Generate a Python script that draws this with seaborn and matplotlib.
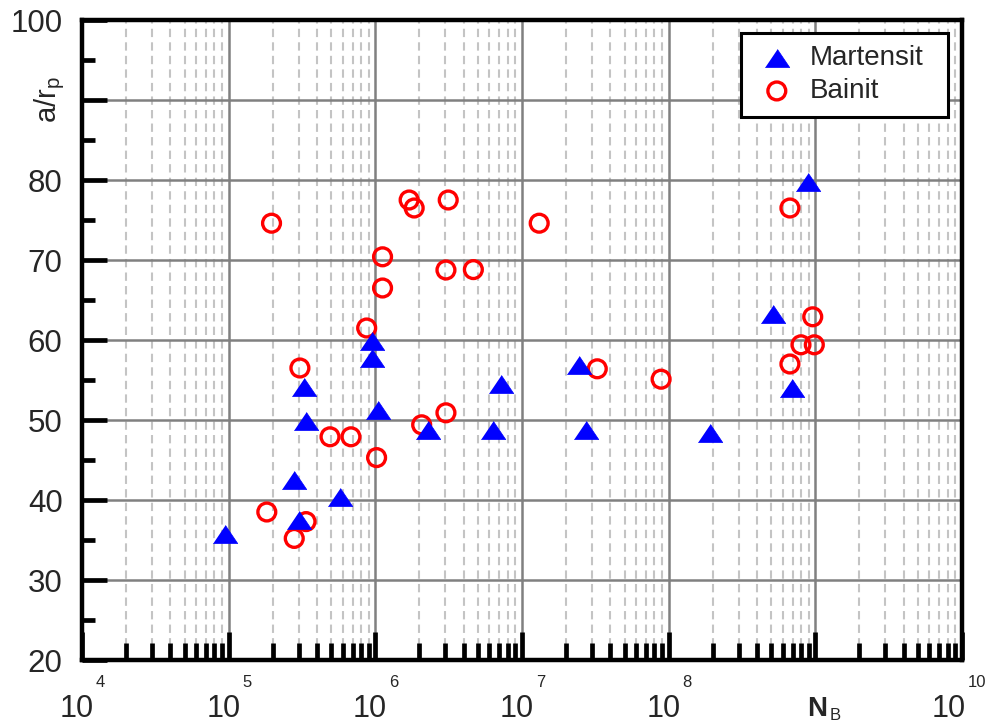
"""
Crack length ratio a/r_p against number of cycles N_B for martensitic and bainitic samples.
Writes out.png.
"""

import matplotlib as mpl

mpl.use("Agg")  # headless

import matplotlib.pyplot as plt
import pandas as pd
import seaborn as sns
from matplotlib.ticker import FixedLocator, LogLocator, NullFormatter

# Martensit (filled blue triangles)
martensit_n = [9.44e4, 2.79e5, 3.03e5, 3.28e5, 3.37e5, 5.74e5, 9.5e5, 9.5e5, 1.04e6,
               2.30e6, 6.3e6, 7.16e6, 2.46e7, 2.72e7, 1.91e8, 5.17e8, 6.9e8, 8.95e8]
martensit_a = [35.8, 42.5, 37.5, 54.1, 49.9, 40.4, 59.9, 57.75, 51.3,
               48.8, 48.8, 54.5, 56.9, 48.8, 48.4, 63.2, 54.0, 79.8]

# Bainit (open red circles)
bainit_n = [1.96e5, 1.70e6, 1.84e6, 3.14e6, 1.31e7, 1.12e6, 3.03e6, 4.66e6, 1.12e6,
            8.73e5, 3.06e5, 4.91e5, 6.82e5, 1.02e6, 2.07e6, 3.03e6, 1.82e5, 3.37e5,
            2.80e5, 3.26e7, 8.88e7, 6.71e8, 9.6e8, 7.98e8, 9.84e8, 6.71e8]
bainit_a = [74.6, 77.5, 76.5, 77.5, 74.6, 70.4, 68.75, 68.8, 66.5,
            61.5, 56.5, 47.9, 47.9, 45.3, 49.4, 50.9, 38.5, 37.3,
            35.2, 56.4, 55.1, 76.5, 62.9, 59.4, 59.4, 57.0]

x_decades = [4, 5, 6, 7, 8, 9, 10]
x_label_decade = 9  # this decade label is replaced by the axis title
y_ticks = [20, 30, 40, 50, 60, 70, 80, 90, 100]
y_label_tick = 90  # replaced by the axis title
y_minor = [25, 35, 45, 55, 65, 75, 85, 95]

FONT = ["Liberation Sans", "DejaVu Sans"]


def style_axes(ax):
    """Tecplot-like frame: thick spines, inward ticks, solid/dashed grid."""
    ax.set_xscale("log")
    ax.set_xlim(10 ** x_decades[0], 10 ** x_decades[-1])
    ax.set_ylim(y_ticks[0], y_ticks[-1])

    ax.xaxis.set_major_locator(FixedLocator([10.0 ** k for k in x_decades]))
    ax.xaxis.set_minor_locator(LogLocator(base=10, subs=range(2, 10), numticks=100))
    ax.xaxis.set_major_formatter(NullFormatter())
    ax.xaxis.set_minor_formatter(NullFormatter())

    ax.set_yticks(y_ticks)
    ax.set_yticklabels(["" if t == y_label_tick else str(t) for t in y_ticks])
    ax.set_yticks(y_minor, minor=True)

    for side in ["left", "right", "top", "bottom"]:
        ax.spines[side].set_visible(True)
        ax.spines[side].set_linewidth(3.2)
        ax.spines[side].set_color("black")

    ax.tick_params(which="both", direction="in", bottom=True, left=True,
                   top=False, right=False, color="black")
    ax.tick_params(axis="x", which="major", length=20, width=3.4)
    ax.tick_params(axis="x", which="minor", length=12, width=3.4)
    ax.tick_params(axis="y", which="major", length=18, width=3.4, pad=14, labelsize=22.5)
    ax.tick_params(axis="y", which="minor", length=9.5, width=3.4)

    ax.set_axisbelow(True)
    ax.grid(which="major", axis="both", color="#808080", linewidth=1.8, linestyle="-")
    ax.grid(which="minor", axis="x", color="#c4c4c4", linewidth=1.5, linestyle=(0, (4, 2.5)))
    ax.set_xlabel("")
    ax.set_ylabel("")


def draw_axis_texts(ax):
    """Decade labels with raised exponents, plus the in-place axis titles."""
    for k in x_decades:
        if k == x_label_decade:
            continue
        # the last label is pulled left so it stays inside the figure
        shift = -5.5 if k == x_decades[-1] else 0
        ax.annotate("10", xy=(10.0 ** k, 0), xycoords=("data", "axes fraction"),
                    xytext=(8.5 + shift, -41), textcoords="offset points",
                    ha="right", va="baseline", fontsize=22, family=FONT)
        ax.annotate(str(k), xy=(10.0 ** k, 0), xycoords=("data", "axes fraction"),
                    xytext=(10 + shift, -19.5), textcoords="offset points",
                    ha="left", va="baseline", fontsize=12, family=FONT)

    ax.annotate("N", xy=(10.0 ** x_label_decade, 0), xycoords=("data", "axes fraction"),
                xytext=(1.5, -40), textcoords="offset points",
                ha="center", va="baseline", fontsize=20, fontweight="bold", family=FONT)
    ax.annotate("B", xy=(10.0 ** x_label_decade, 0), xycoords=("data", "axes fraction"),
                xytext=(10, -43.5), textcoords="offset points",
                ha="left", va="baseline", fontsize=12, family=FONT)

    ax.annotate("a/r$_\\mathregular{p}$", xy=(0, y_label_tick),
                xycoords=("axes fraction", "data"),
                xytext=(-23.5, 0), textcoords="offset points",
                ha="center", va="center", rotation=90, fontsize=21, family=FONT)


def main():
    sns.set_theme(style="white")
    plt.rcParams["font.family"] = FONT
    plt.rcParams["mathtext.fontset"] = "custom"
    plt.rcParams["mathtext.rm"] = "Liberation Sans"

    fig = plt.figure(figsize=(9.92, 7.22), dpi=100)
    ax = fig.add_axes([82 / 992, 62 / 722, 880 / 992, 640 / 722])

    df_m = pd.DataFrame({"N_B": martensit_n, "a_rp": martensit_a})
    df_b = pd.DataFrame({"N_B": bainit_n, "a_rp": bainit_a})

    tri = [(-1, -0.74), (1, -0.74), (0, 0.74)]

    # circles first so the triangles sit on top of them, as in the original
    sns.scatterplot(data=df_b, x="N_B", y="a_rp", ax=ax, marker="o", s=165,
                    color="red", facecolor="none", edgecolor="red", linewidth=2.4,
                    label="Bainit", zorder=3)
    sns.scatterplot(data=df_m, x="N_B", y="a_rp", ax=ax, marker=tri, s=310,
                    color="blue", edgecolor="blue", linewidth=0.5,
                    label="Martensit", zorder=4)

    style_axes(ax)
    draw_axis_texts(ax)

    handles, labels = ax.get_legend_handles_labels()
    order = [labels.index("Martensit"), labels.index("Bainit")]
    # fixed-width box in the upper right corner, entries kept to the left
    leg = ax.legend([handles[i] for i in order], [labels[i] for i in order],
                    loc="upper left", bbox_to_anchor=(0.749, 0.88, 0.235, 0.1),
                    mode="expand", fontsize=20, frameon=True, fancybox=False,
                    framealpha=1, edgecolor="black", borderpad=0.45,
                    labelspacing=0.25, handletextpad=0.35, handlelength=1.67,
                    borderaxespad=0)
    leg.get_frame().set_linewidth(2.2)

    fig.savefig("out.png", dpi=100)
    plt.close(fig)


if __name__ == "__main__":
    main()
